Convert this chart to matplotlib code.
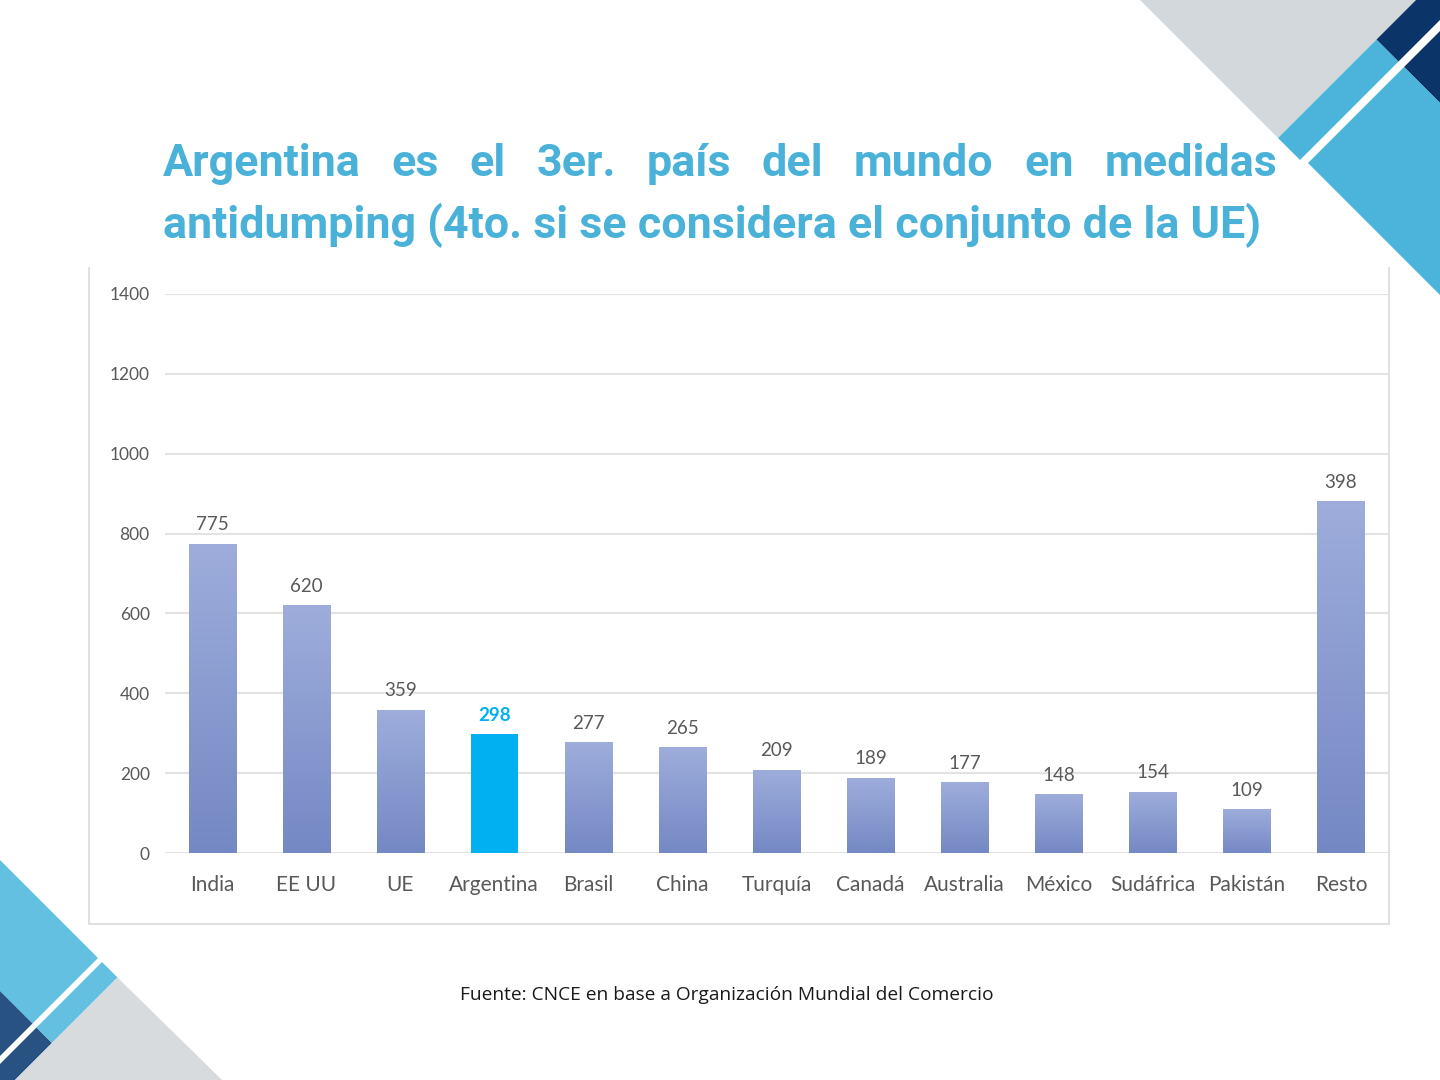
import numpy as np
import matplotlib.pyplot as plt
from matplotlib.patches import Polygon
from matplotlib.colors import LinearSegmentedColormap

# Antidumping measures by country (bar heights;
# the "Resto" bar is drawn taller than its 398 label in the original)
countries = ["India", "EE UU", "UE", "Argentina", "Brasil", "China", "Turquía",
             "Canadá", "Australia", "México", "Sudáfrica", "Pakistán", "Resto"]
heights = [775, 620, 359, 298, 277, 265, 209, 189, 177, 148, 154, 109, 882]
value_labels = ["775", "620", "359", "298", "277", "265", "209",
                "189", "177", "148", "154", "109", "398"]
highlight = "Argentina"
y_ticks = [0, 200, 400, 600, 800, 1000, 1200, 1400]

title_line1 = "Argentina es el 3er. país del mundo en medidas"
title_line2 = "antidumping (4to. si se considera el conjunto de la UE)"
source_text = "Fuente: CNCE en base a Organización Mundial del Comercio"

TITLE_COLOR = "#4AB2D8"
HIGHLIGHT_COLOR = "#00B0F0"
TEXT_GREY = "#595959"
GRID_COLOR = "#E3E3E3"
bar_cmap = LinearSegmentedColormap.from_list("bar", ["#7488C4", "#9EADDB"])

W, H = 1440, 1080
fig = plt.figure(figsize=(W / 100, H / 100), dpi=100)
fig.patch.set_facecolor("white")

# background layer in pixel coordinates (corner decorations + chart frame)
bg = fig.add_axes([0, 0, 1, 1], zorder=0)
bg.set_xlim(0, W)
bg.set_ylim(H, 0)
bg.axis("off")

corner_shapes = [
    # top right
    ([(1140, 0), (1416, 0), (1278, 138)], "#D3D8DC"),
    ([(1278, 138), (1376.5, 39.5), (1398.5, 61.5), (1300, 160)], "#4CB4DA"),
    ([(1416, 0), (1440, 0), (1440, 20), (1398.5, 61.5), (1376.5, 39.5)], "#0B3468"),
    ([(1440, 31), (1440, 103), (1404, 67)], "#0B3468"),
    ([(1404, 67), (1440, 103), (1440, 295), (1308, 163)], "#4CB4DA"),
    # bottom left
    ([(0, 860), (98, 958), (32.5, 1023.5), (0, 991)], "#63C0E0"),
    ([(0, 991), (32.5, 1023.5), (0, 1056)], "#285281"),
    ([(36.5, 1027.5), (52, 1043), (15, 1080), (0, 1080), (0, 1064)], "#285281"),
    ([(102, 962), (117.5, 977.5), (52, 1043), (36.5, 1027.5)], "#63C0E0"),
    ([(117.5, 977.5), (222, 1080), (15, 1080)], "#D8DBDE"),
]
for pts, col in corner_shapes:
    bg.add_patch(Polygon(pts, closed=True, facecolor=col, edgecolor="none"))

# chart frame: left, bottom and right sides only
bg.plot([89, 89, 1389, 1389], [268, 924, 924, 268], color="#DADADA", lw=1.2)

# chart axes: 0..1400 maps to y=853..294 px, categories span x=165..1388 px
ax = fig.add_axes([165 / W, 1 - 853 / H, 1223 / W, (853 - 294) / H], zorder=2)
ax.patch.set_alpha(0)
x = np.arange(len(countries))
bars = ax.bar(x, heights, width=0.5, color="none", zorder=3)

grad = np.linspace(0, 1, 256).reshape(-1, 1)
for rect, name in zip(bars, countries):
    x0, w, h = rect.get_x(), rect.get_width(), rect.get_height()
    if name == highlight:
        rect.set_facecolor(HIGHLIGHT_COLOR)
        continue
    im = ax.imshow(grad, cmap=bar_cmap, origin="lower", aspect="auto",
                   extent=[x0, x0 + w, 0, h], zorder=3)
    im.set_clip_path(rect)

for rect, name, lab in zip(bars, countries, value_labels):
    is_hl = name == highlight
    ax.annotate(lab, (rect.get_x() + rect.get_width() / 2, rect.get_height()),
                xytext=(0, 13.5), textcoords="offset points", ha="center", va="center",
                fontsize=13.5, family="Lato",
                color=HIGHLIGHT_COLOR if is_hl else TEXT_GREY,
                fontweight="bold" if is_hl else "normal")

ax.set_xlim(-0.5, len(countries) - 0.5)
ax.set_ylim(0, 1400)
ax.set_yticks(y_ticks)
ax.set_xticks(x)
ax.set_xticklabels(countries)
ax.yaxis.grid(True, color=GRID_COLOR, lw=1.5, zorder=0)
ax.set_axisbelow(True)
for s in ax.spines.values():
    s.set_visible(False)
ax.tick_params(axis="both", length=0, colors=TEXT_GREY)
ax.tick_params(axis="y", pad=11, labelsize=12.5)
ax.tick_params(axis="x", pad=16, labelsize=15)
for t in ax.get_xticklabels() + ax.get_yticklabels():
    t.set_family("Lato")

# title: first line justified between x=163 and x=1277 px
renderer = fig.canvas.get_renderer()
left_px, right_px = 163, 1277
title_size = 32.3
words = title_line1.split()
word_texts = [fig.text(0, 0, w_, fontsize=title_size, family="Roboto",
                       fontweight="bold", color=TITLE_COLOR) for w_ in words]
widths = [t.get_window_extent(renderer).width for t in word_texts]
gap = (right_px - left_px - sum(widths)) / (len(words) - 1)
pos = left_px
for t, wd in zip(word_texts, widths):
    t.set_position((pos / W, 1 - 176 / H))
    pos += wd + gap
fig.text(left_px / W, 1 - 238 / H, title_line2, fontsize=title_size, family="Roboto",
         fontweight="bold", color=TITLE_COLOR)

fig.text(727 / W, 1 - 995 / H, source_text, ha="center", va="center",
         fontsize=13.8, family="Open Sans", color="#1A1A1A")

fig.savefig("out.png", dpi=100)
